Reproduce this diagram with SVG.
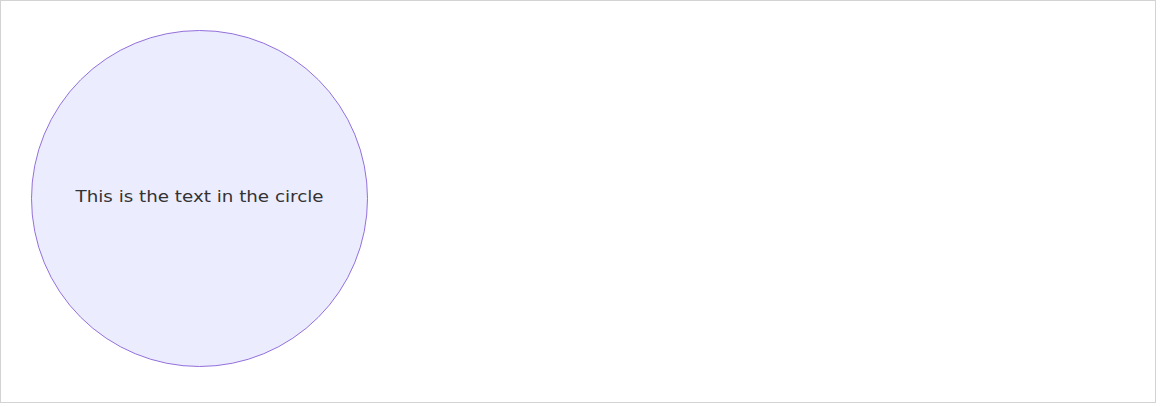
<svg xmlns="http://www.w3.org/2000/svg" width="1160" height="407" viewBox="0 0 1160 407">
<style>
.node circle{fill:#ECECFF;stroke:#9370DB;stroke-width:1}
.label{font-family:"DejaVu Sans","Liberation Sans",sans-serif;font-size:16px;fill:#333333}
</style>
<rect x="0" y="0" width="1160" height="407" fill="#ffffff"/>
<rect x="0.5" y="0.5" width="1155" height="402" fill="none" stroke="#d3d3d3" stroke-width="1"/>
<g id="connectors"></g>
<g id="node-circle" class="node">
<circle cx="199.5" cy="198.5" r="168"/>
<text class="label" x="199.5" y="196.5" text-anchor="middle" dominant-baseline="central" textLength="248" lengthAdjust="spacingAndGlyphs">This is the text in the circle</text>
</g>
</svg>
